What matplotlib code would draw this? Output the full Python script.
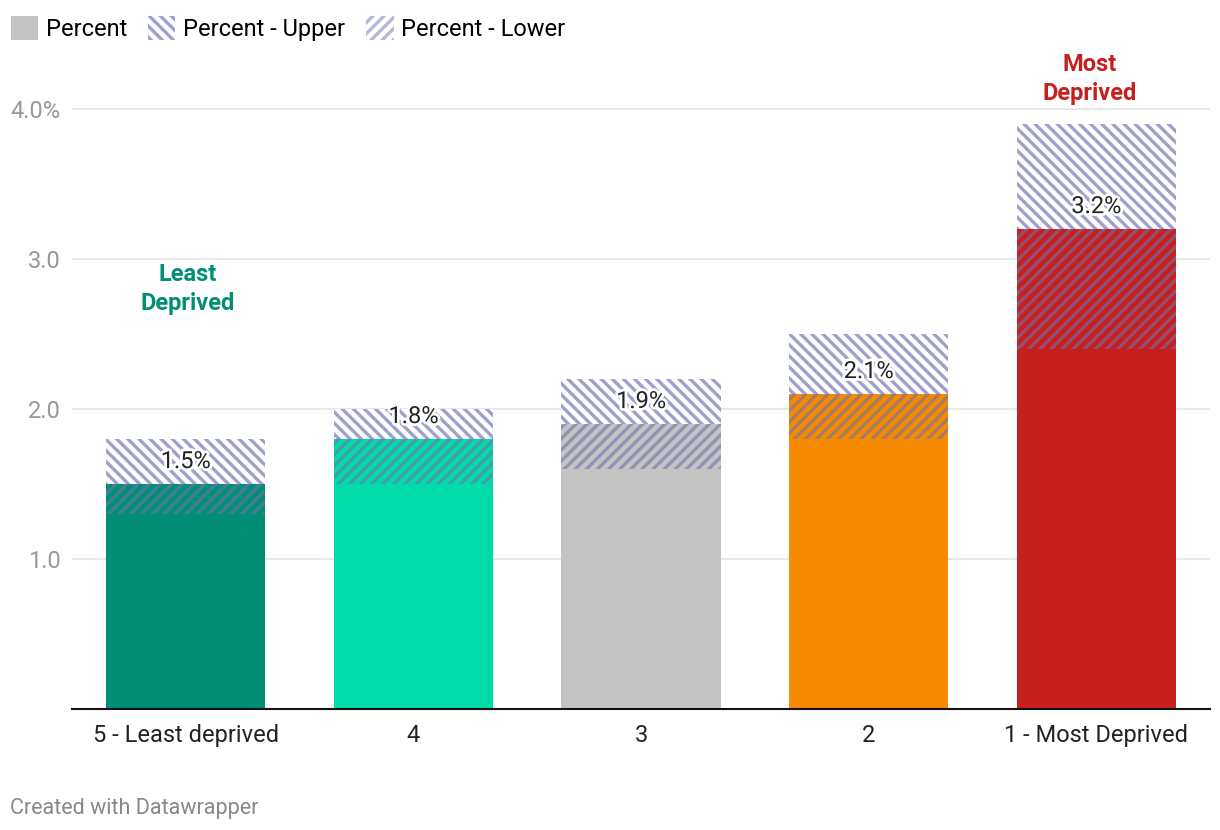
import matplotlib.pyplot as plt
from matplotlib.patches import Patch
import matplotlib.patheffects as pe

plt.rcParams['font.family'] = ['Roboto', 'DejaVu Sans']
plt.rcParams['hatch.linewidth'] = 2.4

# data
categories = ['5 - Least deprived', '4', '3', '2', '1 - Most Deprived']
percent = [1.5, 1.8, 1.9, 2.1, 3.2]
upper = [1.8, 2.0, 2.2, 2.5, 3.9]
lower = [1.3, 1.5, 1.6, 1.8, 2.4]
bar_colors = ['#008f75', '#00dba8', '#c4c4c4', '#f78b00', '#c71e1e']
yticks = [1, 2, 3, 4]
ytick_labels = ['1.0', '2.0', '3.0', '4.0%']

upper_col = '#9fa1cc'
lower_col = (0.45, 0.45, 0.68, 0.6)

fig = plt.figure(figsize=(12.2, 8.3), dpi=100)
ax = fig.add_axes([0.059, 0.1458, 0.933, 0.795])

x = range(len(categories))
w = 0.70

# solid bars
ax.bar(x, percent, width=w, color=bar_colors, linewidth=0, zorder=2)
# upper band: from value to upper
ax.bar(x, [u - p for u, p in zip(upper, percent)], bottom=percent, width=w,
       facecolor='white', edgecolor=upper_col, hatch='\\\\\\', linewidth=0, zorder=2)
# lower band: from lower to value, overlaid
ax.bar(x, [p - l for p, l in zip(percent, lower)], bottom=lower, width=w,
       facecolor='none', edgecolor=lower_col, hatch='///', linewidth=0, zorder=3)

# value labels
for i, p in enumerate(percent):
    ax.text(i, p + 0.15, f'{p}%', ha='center', va='center', fontsize=17, color='#222222',
            zorder=5, path_effects=[pe.withStroke(linewidth=4, foreground='white')])

# annotations
ax.text(0.01, 2.80, 'Least\nDeprived', ha='center', va='center', fontsize=17, fontweight='bold',
        color='#008f75', linespacing=1.32)
ax.text(3.97, 4.20, 'Most\nDeprived', ha='center', va='center', fontsize=17, fontweight='bold',
        color='#c71e1e', linespacing=1.32, clip_on=False)

ax.set_xlim(-0.5, 4.5)
ax.set_ylim(0, 4.4)
ax.set_yticks(yticks)
ax.set_yticklabels(ytick_labels)
ax.set_xticks(list(x))
ax.set_xticklabels(categories)
ax.tick_params(axis='y', length=0, pad=8, labelsize=17, labelcolor='#999999')
ax.tick_params(axis='x', length=0, pad=11, labelsize=17, labelcolor='#222222')
ax.grid(axis='y', color='#e3e3e3', linewidth=1.2, zorder=0)
ax.set_axisbelow(True)
for s in ['top', 'right', 'left']:
    ax.spines[s].set_visible(False)
ax.spines['bottom'].set_color('#111111')
ax.spines['bottom'].set_linewidth(1.5)
ax.spines['bottom'].set_zorder(4)

# legend
handles = [
    Patch(facecolor='#c4c4c4', linewidth=0, label='Percent'),
    Patch(facecolor='white', edgecolor=upper_col, hatch='\\\\\\', linewidth=0, label='Percent - Upper'),
    Patch(facecolor='white', edgecolor='#b6b7d9', hatch='///', linewidth=0, label='Percent - Lower'),
]
fig.legend(handles=handles, loc='upper left', bbox_to_anchor=(0.0, 0.993), ncol=3, frameon=False,
           fontsize=17, handlelength=1.15, handleheight=1.15, handletextpad=0.33, columnspacing=0.9,
           borderaxespad=0.1, borderpad=0.35)

fig.text(0.008, 0.019, 'Created with Datawrapper', fontsize=15.5, color='#888888')

fig.savefig('out.png', dpi=100)
